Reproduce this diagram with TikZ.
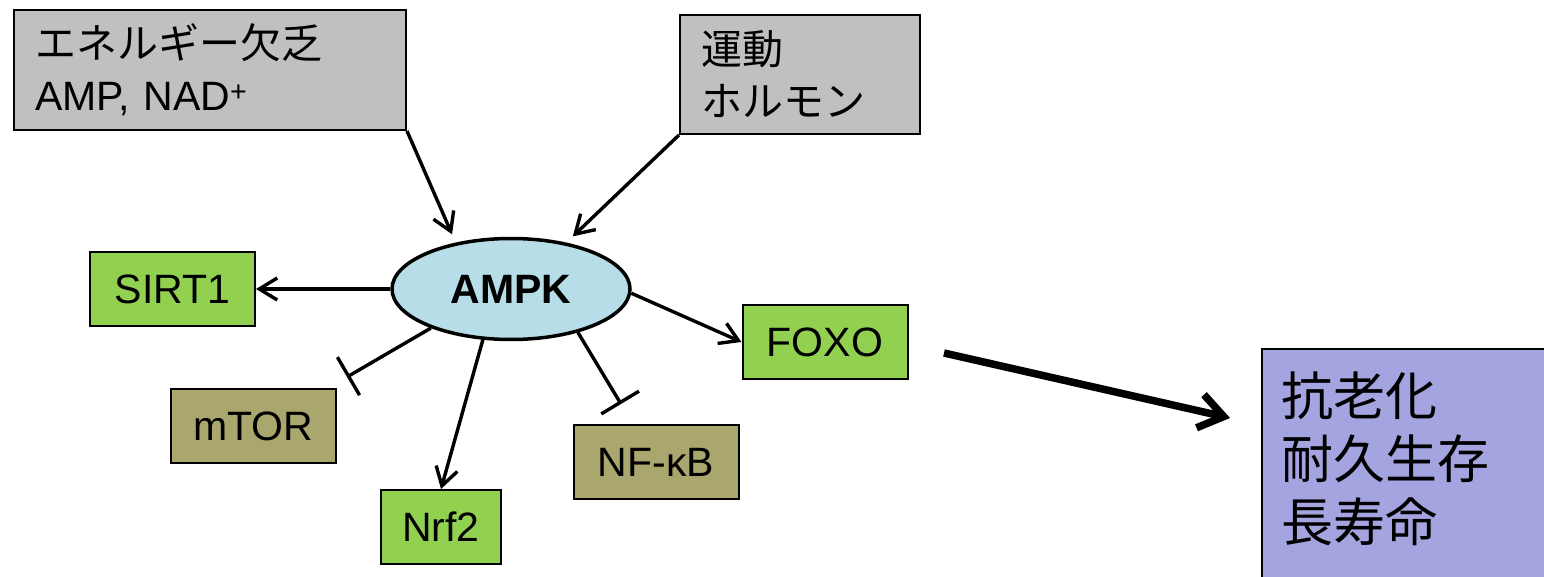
\documentclass[tikz,border=0pt]{standalone}
\usepackage{fontspec}
\setmainfont{Liberation Sans}
\newfontfamily\jp{Noto Sans CJK JP}
\usetikzlibrary{shapes.geometric,arrows.meta,calc}

\definecolor{boxgray}{HTML}{C0C0C0}
\definecolor{actgreen}{HTML}{92D050}
\definecolor{inholive}{HTML}{A9A66E}
\definecolor{kinase}{HTML}{B7DEE8}
\definecolor{outcomeblue}{HTML}{A4A4E0}

\tikzset{
  every node/.style={font=\fontsize{41}{52}\selectfont},
  causebox/.style={draw, fill=boxgray, line width=2pt, inner ysep=0pt,
    inner xsep=21pt, align=left},
  actbox/.style={draw, fill=actgreen, line width=2pt, inner sep=0pt,
    minimum width=165, minimum height=74},
  inhbox/.style={draw, fill=inholive, line width=2pt, inner sep=0pt,
    minimum width=165, minimum height=74},
  act/.style={line width=3.4pt, -{Straight Barb[length=18pt,width=22pt]}},
  inhib/.style={line width=3.4pt, -{Bar[width=44pt]}},
  bigact/.style={line width=7.5pt, -{Straight Barb[length=24pt,width=34pt]}}
}

\begin{document}
\begin{tikzpicture}[x=1pt,y=-1pt]
\useasboundingbox (0,0) rectangle (1544,577);
\clip (0,0) rectangle (1544,577);
\fill[white] (0,0) rectangle (1544,577);

% upstream signals
\node[causebox, minimum width=392, minimum height=120, text width=350]
  (energy) at (210,70) {{\jp エネルギー欠乏}\\AMP, NAD\textsuperscript{+}};
\node[causebox, minimum width=240, minimum height=119, text width=198]
  (exercise) at (800,74.5) {{\jp 運動}\\{\jp ホルモン}};

% the kinase
\node[ellipse, draw, fill=kinase, line width=3.5pt, inner sep=0pt,
  minimum width=238, minimum height=101, font=\fontsize{41}{52}\selectfont\bfseries]
  (ampk) at (511,289) {AMPK};

% downstream targets
\node[actbox] (sirt1) at (172.5,289) {SIRT1};
\node[inhbox] (mtor) at (253,426) {mTOR};
\node[actbox, minimum width=120] (nrf2) at (441,527) {Nrf2};
\node[inhbox] (nfkb) at (656,462) {NF-κB};
\node[actbox] (foxo) at (825,342) {FOXO};

% outcome
\node[draw, fill=outcomeblue, line width=2pt, anchor=north west, inner sep=0pt,
  minimum width=400, minimum height=300] (outcome) at (1261,348) {};
\node[anchor=north west, align=left, inner sep=0pt,
  font=\jp\fontsize{52}{63}\selectfont] (outcometext) at (1281,372)
  {抗老化\\耐久生存\\長寿命};

% inhibition bar positions and the long arrow ends
\coordinate (mtorbar) at (347,377);
\coordinate (nfkbbar) at (621,404);
\coordinate (bigstart) at (944,353);
\coordinate (bigend) at (1230,418);

% connectors
\draw[act, shorten >=9pt] (energy.south east) -- (ampk.140);
\draw[act, shorten >=9pt] (exercise.south west) -- (ampk.40);
\draw[act] (ampk) -- (sirt1);
\draw[inhib] (ampk.206) -- (mtorbar);
\draw[act] (ampk.241) -- (nrf2.north);
\draw[inhib] (ampk.327) -- (nfkbbar);
\draw[act] (ampk.358) -- (foxo.west);
\draw[bigact] (bigstart) -- (bigend);
\end{tikzpicture}
\end{document}
